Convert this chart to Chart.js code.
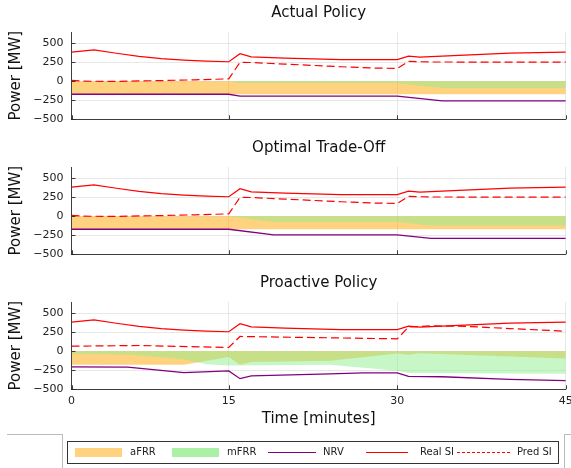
<!DOCTYPE html>
<html><head><meta charset="utf-8">
<script src="https://cdn.jsdelivr.net/npm/chart.js@4/dist/chart.umd.min.js"></script>
<style>
html,body{margin:0;padding:0;background:#fff;width:571px;height:468px;overflow:hidden;font-family:"DejaVu Sans",sans-serif;}
.pnl{position:absolute;left:0;}
.lg{position:absolute;}
.lt{position:absolute;font-size:10px;line-height:12px;color:#222;top:446px;white-space:nowrap;}
</style></head><body>
<canvas class="pnl" id="c0" width="571" height="135" style="top:0px"></canvas>
<canvas class="pnl" id="c1" width="571" height="135" style="top:135px"></canvas>
<canvas class="pnl" id="c2" width="571" height="165" style="top:270px"></canvas>

<div class="lg" style="left:7px;top:434px;width:55px;height:40px;border-top:1px solid #bbb;border-right:1px solid #bbb;"></div>
<div class="lg" style="left:564px;top:434px;width:20px;height:40px;border-top:1px solid #bbb;border-left:1px solid #bbb;"></div>
<div class="lg" style="left:67px;top:441px;width:492px;height:23px;border:1px solid #333;box-sizing:border-box;"></div>
<div class="lg" style="left:75px;top:448px;width:47px;height:9px;background:rgb(255,210,128)"></div>
<div class="lt" style="left:130px">aFRR</div>
<div class="lg" style="left:172px;top:448px;width:47px;height:9px;background:rgb(170,240,165)"></div>
<div class="lt" style="left:227px">mFRR</div>
<div class="lg" style="left:268px;top:452px;width:48px;height:0;border-top:1px solid rgb(128,0,128)"></div>
<div class="lt" style="left:323px">NRV</div>
<div class="lg" style="left:366px;top:452px;width:42px;height:0;border-top:1px solid rgb(255,0,0)"></div>
<div class="lt" style="left:420px">Real SI</div>
<div class="lg" style="left:457px;top:452px;width:53px;height:0;border-top:1px dashed rgb(255,0,0)"></div>
<div class="lt" style="left:517px">Pred SI</div>

<script>
// ---- axis ticks ----
const xTickPos = [1, 15, 30, 45];
const xTickLabels = ['0', '15', '30', '45'];
const yTickVals = [-500, -250, 0, 250, 500];
const panelTitles = ['Actual Policy', 'Optimal Trade-Off', 'Proactive Policy'];

// ---- Real SI (same in all panels) ----
const realSI_t = [1, 3, 5, 7, 9, 11, 13, 15, 16, 17, 20, 25, 30, 31, 32, 36, 40, 45];
const realSI_v = [386, 415, 370, 330, 300, 280, 266, 258, 364, 322, 305, 286, 287, 333, 318, 345, 373, 386];

// ---- Pred SI (actual & optimal) ----
const predA_t = [1, 2, 5, 9, 12, 15, 16, 17, 20, 25, 28, 30, 31, 33, 45];
const predA_v = [12, 2, 0, 10, 20, 33, 250, 248, 227, 192, 175, 170, 262, 255, 252];

// ---- Actual Policy ----
const nrvA_t = [1, 15, 16, 30, 34, 45];
const nrvA_v = [-170, -170, -196, -196, -258, -258];
const afrrA_t = [1, 45];
const afrrA_v = [-170, -170];
const mfrrA_t = [1, 15, 16, 30, 34, 45];
const mfrrA_v = [0, 0, -25, -25, -88, -88];

// ---- Optimal Trade-Off ----
const nrvO_t = [1, 15, 19, 30, 33, 45];
const nrvO_v = [-170, -170, -245, -245, -289, -289];
const afrrO_t = [1, 45];
const afrrO_v = [-170, -170];
const mfrrO_t = [1, 15, 19, 30, 33, 45];
const mfrrO_v = [0, 0, -75, -75, -119, -119];

// ---- Proactive Policy ----
const predP_t = [1, 7, 15, 16, 30, 31, 33, 36, 40, 45];
const predP_v = [68, 77, 51, 196, 165, 320, 335, 330, 300, 265];
const nrvP_t = [1, 6, 11, 15, 16, 17, 24, 27, 30, 31, 34, 40, 45];
const nrvP_v = [-205, -209, -280, -258, -360, -324, -298, -284, -284, -329, -335, -368, -386];
const afrrP_t = [1, 11, 15, 16, 17, 24, 30, 31, 32, 45];
const afrrP_v = [-175, -175, -75, -175, -140, -125, -30, -45, -25, -95];
const mfrrP_t = [1, 6, 11, 13, 15, 16, 24, 30, 31, 45];
const mfrrP_v = [-35, -40, -105, -170, -185, -185, -175, -255, -285, -295];

const pts = (ts, vs) => ts.map((t, i) => ({x: t, y: vs[i]}));

Chart.defaults.font.family = '"DejaVu Sans", sans-serif';
Chart.defaults.color = '#222';

const innerTicks = {
  id: 'innerTicks',
  afterDraw(chart) {
    const {ctx, chartArea: a, scales: {x, y}} = chart;
    ctx.save();
    ctx.strokeStyle = 'rgba(40,40,40,0.9)';
    ctx.lineWidth = 1;
    ctx.beginPath();
    x.ticks.forEach(t => { const px = Math.round(x.getPixelForValue(t.value)) + 0.5; ctx.moveTo(px, a.bottom); ctx.lineTo(px, a.bottom - 4); });
    y.ticks.forEach(t => { const py = Math.round(y.getPixelForValue(t.value)) + 0.5; ctx.moveTo(a.left, py); ctx.lineTo(a.left + 4, py); });
    ctx.stroke();
    ctx.restore();
  }
};

function makePanel(id, title, real, pred, nrv, afrr, mfrr, bottom) {
  new Chart(document.getElementById(id), {
    type: 'line',
    data: {
      datasets: [
        {label: 'Pred SI', data: pred, borderColor: 'rgb(255,0,0)', borderWidth: 1.2, borderDash: [8, 4], pointRadius: 0, fill: false},
        {label: 'Real SI', data: real, borderColor: 'rgb(255,0,0)', borderWidth: 1.2, pointRadius: 0, fill: false},
        {label: 'NRV', data: nrv, borderColor: 'rgb(128,0,128)', borderWidth: 1.3, pointRadius: 0, fill: false},
        {label: 'mFRR', data: mfrr, borderWidth: 0, borderColor: 'rgba(0,0,0,0)', backgroundColor: 'rgba(144,238,144,0.5)', pointRadius: 0, fill: 'origin'},
        {label: 'aFRR', data: afrr, borderWidth: 0, borderColor: 'rgba(0,0,0,0)', backgroundColor: 'rgba(255,165,0,0.5)', pointRadius: 0, fill: 'origin'}
      ]
    },
    options: {
      responsive: false,
      animation: false,
      layout: {padding: {left: 0, right: 5.2, top: 0, bottom: bottom ? 5.7 : 15.7}},
      plugins: {
        legend: {display: false},
        tooltip: {enabled: false},
        title: {display: true, text: title, fullSize: false, color: '#111',
                font: {size: 15, weight: 'normal'}, padding: {top: 4, bottom: 10}}
      },
      scales: {
        x: {
          type: 'linear', min: 1, max: 45,
          afterBuildTicks: s => { s.ticks = xTickPos.map(v => ({value: v})); },
          afterFit: s => { s.height = bottom ? 40 : 0; s.paddingLeft = 0; s.paddingRight = 0; },
          ticks: {display: bottom, padding: 5, font: {size: 11}, color: '#222', maxRotation: 0,
                  callback: (v) => xTickLabels[xTickPos.indexOf(v)]},
          grid: {color: 'rgba(0,0,0,0.09)', lineWidth: 1, drawTicks: false},
          border: {display: true, color: 'rgba(30,30,30,0.85)', width: 1},
          title: {display: bottom, text: 'Time [minutes]', font: {size: 15}, color: '#111', padding: {top: 0, bottom: 1.3}}
        },
        y: {
          min: -500, max: 650,
          afterBuildTicks: s => { s.ticks = yTickVals.map(v => ({value: v})); },
          afterFit: s => { s.width = 71.5; s.paddingTop = 0; s.paddingBottom = 0; },
          ticks: {padding: 8, font: {size: 11}, color: '#222',
                  callback: v => String(v).replace('-', '\u2212')},
          grid: {color: 'rgba(0,0,0,0.09)', lineWidth: 1, drawTicks: false},
          border: {display: true, color: 'rgba(30,30,30,0.85)', width: 1},
          title: {display: true, text: 'Power [MW]', font: {size: 15}, color: '#111', padding: {top: 7, bottom: 0}}
        }
      }
    },
    plugins: [innerTicks]
  });
}

makePanel('c0', panelTitles[0], pts(realSI_t, realSI_v), pts(predA_t, predA_v), pts(nrvA_t, nrvA_v), pts(afrrA_t, afrrA_v), pts(mfrrA_t, mfrrA_v), false);
makePanel('c1', panelTitles[1], pts(realSI_t, realSI_v), pts(predA_t, predA_v), pts(nrvO_t, nrvO_v), pts(afrrO_t, afrrO_v), pts(mfrrO_t, mfrrO_v), false);
makePanel('c2', panelTitles[2], pts(realSI_t, realSI_v), pts(predP_t, predP_v), pts(nrvP_t, nrvP_v), pts(afrrP_t, afrrP_v), pts(mfrrP_t, mfrrP_v), true);
</script>
</body></html>
